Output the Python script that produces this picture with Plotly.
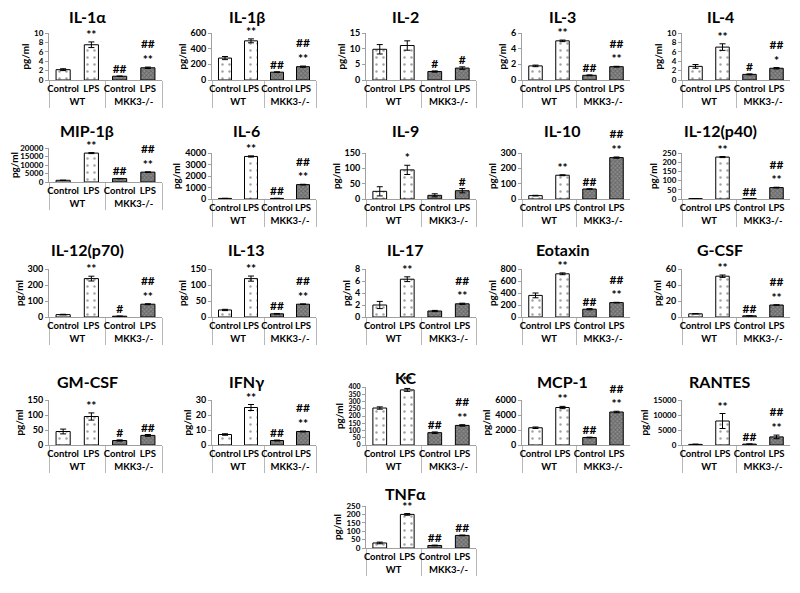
import plotly.graph_objects as go

cytokines = ["IL-1α", "IL-1β", "IL-2", "IL-3", "IL-4",
             "MIP-1β", "IL-6", "IL-9", "IL-10", "IL-12(p40)",
             "IL-12(p70)", "IL-13", "IL-17", "Eotaxin", "G-CSF",
             "GM-CSF", "IFNγ", "KC", "MCP-1", "RANTES",
             "TNFα"]

wt_control = [2.2, 280, 9.8, 1.8, 2.9, 1000, 50, 25, 22, 2, 15, 22, 2.0, 360, 4, 45, 7, 255, 2300, 200, 30]
wt_lps = [7.5, 500, 11.0, 5.0, 7.0, 17000, 3700, 95, 155, 228, 240, 120, 6.3, 720, 51, 95, 25, 380, 5000, 8000, 200]
ko_control = [0.8, 100, 2.7, 0.6, 1.2, 2000, 50, 12, 65, 2, 5, 10, 1.0, 130, 1.5, 15, 3, 85, 1000, 300, 15]
ko_lps = [2.6, 170, 3.8, 1.7, 2.5, 5800, 1250, 27, 270, 62, 80, 40, 2.2, 240, 15, 32, 9, 135, 4400, 2700, 75]

err_wt_control = [0.2, 20, 1.5, 0.1, 0.4, 100, 10, 15, 2, 0.5, 2, 2, 0.6, 40, 0.3, 8, 0.5, 8, 100, 100, 5]
err_wt_lps = [0.6, 25, 1.5, 0.1, 0.7, 300, 50, 15, 3, 3, 15, 8, 0.4, 15, 1.5, 12, 2, 10, 150, 2500, 5]
err_ko_control = [0.05, 5, 0.2, 0.05, 0.1, 100, 10, 5, 2, 0.5, 1, 1, 0.1, 10, 0.1, 2, 0.3, 5, 50, 50, 2]
err_ko_lps = [0.15, 8, 0.4, 0.05, 0.15, 200, 30, 7, 4, 2, 3, 1, 0.1, 5, 0.3, 3, 0.3, 5, 100, 600, 2]

sig_wt_control = [""] * 21
sig_wt_lps = ["**", "**", "", "**", "**", "**", "**", "*", "**", "**",
              "**", "**", "**", "**", "**", "**", "**", "**", "**", "**", "**"]
sig_ko_control = ["##", "##", "#", "##", "#", "##", "##", "", "##", "##",
                  "#", "##", "", "##", "##", "#", "##", "##", "##", "##", "##"]
sig_ko_lps = ["##<br>**", "##<br>**", "#", "##<br>**", "##<br>*", "##<br>**", "##<br>**", "#", "##<br>**", "##<br>**",
              "##<br>**", "##<br>**", "##<br>**", "##<br>**", "##<br>**", "##", "##<br>**", "##<br>**", "##<br>**", "##<br>**", "##"]

y_max = [10, 600, 15, 6, 10, 20000, 4000, 150, 300, 250, 300, 150, 8, 800, 60, 150, 30, 400, 6000, 15000, 250]
y_step = [2, 200, 5, 2, 2, 5000, 1000, 50, 100, 50, 100, 50, 2, 200, 20, 50, 10, 50, 2000, 5000, 50]

groups = ["WT", "WT", "MKK3-/-", "MKK3-/-"]
conditions = ["Control", "LPS", "Control", "LPS"]

# page body has an 8px margin: figure occupies 8..800 x 8..593
OFF = 8
W, H = 800 - OFF, 593 - OFF
FONT = "Lato"
NARROW = "Liberation Sans Narrow, Lato"

col_x = [(49, 162), (212, 316), (366, 476), (522, 630), (682, 790)]
col_title_x = [87, 247, 405, 562, 720]
row_y = [(33, 80), (153, 199), (269, 317), (400, 445), (506, 548)]
row_title_y = [17, 130, 250, 382, 493]
box_override = {5: (148, 182), 17: (387, 445)}
title_y_override = {17: 377}


def px(x):
    return (x - OFF) / W


def py(y):
    return 1 - (y - OFF) / H


fig = go.Figure()
annotations = []

for i, name in enumerate(cytokines):
    r, c = divmod(i, 5)
    if r == 4:
        c = 2
    k = i + 1
    xa = "x" if k == 1 else f"x{k}"
    ya = "y" if k == 1 else f"y{k}"
    vals = [wt_control[i], wt_lps[i], ko_control[i], ko_lps[i]]
    errs = [err_wt_control[i], err_wt_lps[i], err_ko_control[i], err_ko_lps[i]]
    sigs = [sig_wt_control[i], sig_wt_lps[i], sig_ko_control[i], sig_ko_lps[i]]
    fig.add_trace(go.Bar(
        x=[groups, conditions], y=vals, xaxis=xa, yaxis=ya, width=0.5,
        marker=dict(
            color=["white", "white", "#8a8a8a", "#8a8a8a"],
            line=dict(color="black", width=1),
            pattern=dict(shape=[".", ".", "x", "x"],
                         fgcolor=["#666666", "#666666", "#333333", "#333333"],
                         bgcolor=["white", "white", "#9a9a9a", "#9a9a9a"],
                         size=[7, 7, 3, 3], solidity=[0.1, 0.1, 0.5, 0.5]),
        ),
        error_y=dict(type="data", array=errs, color="black", thickness=1, width=3),
        showlegend=False, hoverinfo="skip",
    ))
    fig.add_trace(go.Scatter(
        x=[groups, conditions], y=[v + e for v, e in zip(vals, errs)],
        xaxis=xa, yaxis=ya, mode="text", text=sigs, textposition="top center",
        textfont=dict(family=FONT, size=12, color="black", weight="bold"),
        cliponaxis=False, showlegend=False, hoverinfo="skip",
    ))
    x0, x1 = col_x[c]
    y0, y1 = box_override.get(i, row_y[r])
    xkey = "xaxis" if k == 1 else f"xaxis{k}"
    ykey = "yaxis" if k == 1 else f"yaxis{k}"
    spacing = (y1 - y0) / (y_max[i] / y_step[i])
    if spacing < 8:
        ytick_size = 7
    elif y_max[i] >= 10000 or spacing < 10:
        ytick_size = 8
    else:
        ytick_size = 9
    fig.update_layout(**{
        xkey: dict(domain=[px(x0), px(x1)], anchor=ya, type="multicategory",
                   automargin=False,
                   showline=True, linecolor="#a0a0a0", linewidth=1,
                   showdividers=True, dividercolor="#b8b8b8", dividerwidth=1,
                   ticks="", tickangle=0,
                   tickfont=dict(family=NARROW, size=9.5, color="black", weight="bold"),
                   showgrid=False, fixedrange=True),
        ykey: dict(domain=[py(y1), py(y0)], anchor=xa, automargin=False,
                   range=[0, y_max[i]], dtick=y_step[i], tick0=0, tickformat="d",
                   showline=True, linecolor="#a0a0a0", linewidth=1,
                   ticks="outside", ticklen=3, tickcolor="#a0a0a0",
                   tickfont=dict(family=FONT, size=ytick_size, color="black", weight="bold"),
                   showgrid=False, zeroline=False,
                   title=dict(text="<b>pg/ml</b>", font=dict(family=FONT, size=10, color="black"), standoff=2),
                   fixedrange=True),
    })
    annotations.append(dict(
        text=f"<b>{name}</b>", x=px(col_title_x[c]), y=py(title_y_override.get(i, row_title_y[r])),
        xref="paper", yref="paper", showarrow=False, xanchor="center", yanchor="middle",
        font=dict(family=FONT, size=16, color="black"),
    ))

fig.update_layout(
    width=W, height=H, margin=dict(l=0, r=0, t=0, b=0, autoexpand=False),
    paper_bgcolor="white", plot_bgcolor="white",
    annotations=annotations, barmode="overlay",
    font=dict(family=FONT, size=10, color="black"),
)

fig.write_html("out.html")
